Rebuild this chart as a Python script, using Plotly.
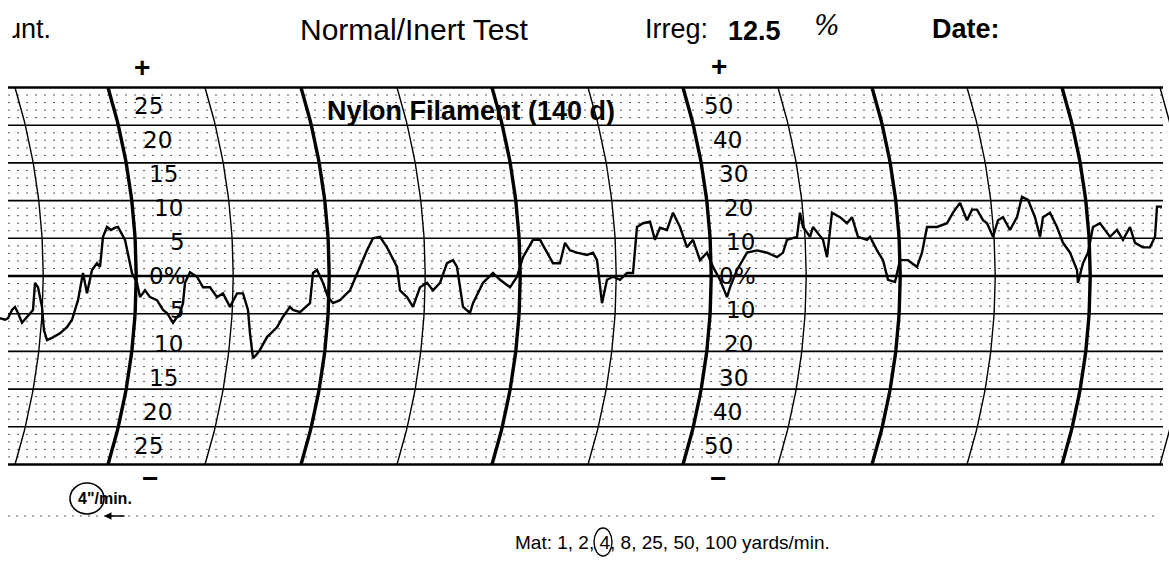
import numpy as np
import plotly.graph_objects as go

# pen trace: position along the chart and irregularity (left scale, %)
pos = [0, 5, 8, 12, 15, 18, 22, 27, 33, 35,
       38, 42, 44, 47, 52, 60, 67, 72, 75, 78,
       83, 87, 92, 97, 100, 103, 107, 111, 115, 118,
       125, 132, 137, 140, 145, 150, 157, 163, 167, 173,
       180, 183, 185, 190, 197, 203, 210, 217, 223, 230,
       237, 243, 248, 250, 253, 256, 260, 267, 277, 283,
       290, 293, 300, 310, 313, 317, 323, 328, 333, 340,
       350, 360, 367, 373, 380, 387, 397, 400, 407, 413,
       420, 427, 433, 440, 447, 453, 457, 463, 470, 473,
       483, 493, 500, 510, 517, 523, 533, 540, 547, 553,
       560, 565, 570, 577, 587, 593, 597, 600, 602, 607,
       613, 620, 627, 633, 637, 643, 650, 655, 660, 667,
       673, 680, 687, 693, 700, 707, 713, 720, 727, 730,
       737, 747, 757, 767, 777, 783, 787, 797, 800, 803,
       810, 813, 823, 827, 832, 840, 847, 852, 858, 867,
       870, 877, 883, 888, 895, 900, 908, 917, 922, 927,
       937, 947, 953, 960, 967, 972, 977, 983, 987, 993,
       998, 1003, 1010, 1017, 1022, 1028, 1035, 1040, 1043, 1050,
       1057, 1063, 1070, 1077, 1078, 1083, 1088, 1093, 1100, 1110,
       1117, 1123, 1130, 1135, 1143, 1150, 1155, 1157, 1162]
irreg = [-5.6, -5.8, -5.6, -4.5, -4.1, -4.9, -6.2, -5.4, -4.5, -0.9,
         -1.5, -4.1, -7.2, -8.5, -8.2, -7.6, -6.8, -5.8, -4.5, -3.2,
         0.4, -2.3, 0.8, 1.7, 1.2, 5.2, 6.5, 6.1, 6.4, 6.5,
         4.8, 0.4, -0.9, -2.8, -1.9, -2.8, -3.2, -4.5, -4.9, -6.2,
         -4.9, -3.6, -0.9, 0.5, -0.1, -1.5, -1.5, -2.8, -2.3, -4.1,
         -2.3, -2.3, -4.5, -7.6, -10.9, -10.5, -9.8, -8.1, -6.8, -5.4,
         -4.1, -4.5, -4.8, -3.6, 0.4, 0.8, -0.9, -2.8, -3.6, -3.2,
         -1.9, 1.2, 3.4, 5.0, 5.2, 3.8, 1.2, -1.9, -2.8, -4.1,
         -1.5, -0.9, -1.9, -0.9, 1.7, 2.1, 1.2, -4.1, -4.9, -3.6,
         -0.9, 0.4, -0.5, -1.5, -0.1, 2.5, 4.8, 4.8, 3.1, 1.7,
         1.7, 4.4, 3.4, 3.1, 2.8, 3.1, 2.1, -1.5, -3.6, -0.5,
         -0.1, -0.5, 0.4, 0.4, 6.5, 7.0, 7.2, 4.8, 6.4, 6.1,
         8.4, 6.5, 3.8, 4.8, 2.1, 3.1, 1.2, -0.5, -2.8, -1.5,
         0.8, 3.1, 3.4, 3.1, 2.5, 3.1, 4.8, 5.2, 8.4, 6.5,
         5.2, 6.5, 4.8, 2.5, 8.4, 7.8, 7.0, 7.8, 5.2, 4.8,
         5.2, 3.4, 2.1, -0.5, -0.8, 2.1, 2.1, 1.2, 3.1, 6.5,
         6.5, 7.0, 8.4, 9.7, 7.4, 8.8, 8.8, 7.4, 7.0, 5.2,
         7.4, 7.8, 6.1, 7.8, 10.5, 10.1, 7.8, 5.2, 7.8, 8.4,
         6.5, 4.4, 3.1, 0.8, -0.9, 1.7, 3.1, 6.5, 7.0, 5.2,
         6.1, 4.8, 6.5, 4.4, 3.8, 3.8, 5.2, 9.2, 9.2]

scale_values = [25, 20, 15, 10, 5, 0, -5, -10, -15, -20, -25]
left_labels = ["25", "20", "15", "10", "5", "0%", "5", "10", "15", "20", "25"]
right_labels = ["50", "40", "30", "20", "10", "0%", "10", "20", "30", "40", "50"]

thick_arcs = [108, 301, 492, 683, 872, 1062]
thin_arcs = [15, 205, 397, 588, 778, 967, 1160]

W, H = 1169, 561
PX = 7.54      # pixels per % on the left scale
ZERO = 276     # pixel row of the 0% line
R = 645        # radius of the time arcs


def yv(pix):
    return (ZERO - pix) / PX


def arc_x(x0, v):
    d = np.asarray(v) * PX
    return x0 + np.sqrt(R ** 2 - d ** 2) - np.sqrt(R ** 2 - (25 * PX) ** 2)


fig = go.Figure()

# horizontal rulings
for v in range(-25, 26):
    if v % 5 == 0:
        w = 2.6 if v in (-25, 0, 25) else 1.6
        fig.add_trace(go.Scatter(x=[8, 1163], y=[v, v], mode="lines",
                                 line=dict(color="black", width=w), hoverinfo="skip"))
    else:
        fig.add_trace(go.Scatter(x=[8, 1163], y=[v, v], mode="lines",
                                 line=dict(color="#555", width=1, dash="2px,7px"), hoverinfo="skip"))

# curved time lines
vv = np.linspace(-25, 25, 60)
for x0 in thick_arcs:
    fig.add_trace(go.Scatter(x=arc_x(x0, vv), y=vv, mode="lines",
                             line=dict(color="black", width=3.4), hoverinfo="skip"))
for x0 in thin_arcs:
    fig.add_trace(go.Scatter(x=arc_x(x0, vv), y=vv, mode="lines",
                             line=dict(color="black", width=1.4), hoverinfo="skip"))

# the recorded trace
fig.add_trace(go.Scatter(x=pos, y=irreg, mode="lines",
                         line=dict(color="black", width=2.4), hoverinfo="skip"))

ann = []
lab_font = dict(family="DejaVu Sans", size=23, color="black")
for v, lt, rt in zip(scale_values, left_labels, right_labels):
    yl = 0.9 * v
    ann.append(dict(x=float(arc_x(108, yl)) + 52, y=yl, text=lt, xanchor="right",
                    showarrow=False, font=lab_font))
    ann.append(dict(x=float(arc_x(683, yl)) + 47, y=yl, text=rt, xanchor="right",
                    showarrow=False, font=lab_font))

head = dict(family="Liberation Sans", size=27, color="black")
sign = dict(family="Liberation Sans", size=28, color="black")
ann += [
    dict(x=10, y=yv(29), text="ɹnt.", xanchor="left", showarrow=False, font=head),
    dict(x=298, y=yv(29), text="Normal/Inert Test", xanchor="left", showarrow=False,
         font=dict(family="Liberation Sans", size=30, color="black")),
    dict(x=643, y=yv(29), text="Irreg:", xanchor="left", showarrow=False, font=head),
    dict(x=726, y=yv(31), text="<b>12.5</b>", xanchor="left", showarrow=False, font=head),
    dict(x=812, y=yv(25), text="<i>%</i>", xanchor="left", showarrow=False,
         font=dict(family="DejaVu Serif", size=27, color="black")),
    dict(x=930, y=yv(29), text="<b>Date:</b>", xanchor="left", showarrow=False, font=head),
    dict(x=142, y=yv(67), text="<b>+</b>", showarrow=False, font=sign),
    dict(x=719, y=yv(66), text="<b>+</b>", showarrow=False, font=sign),
    dict(x=150, y=yv(478), text="<b>−</b>", showarrow=False, font=sign),
    dict(x=718, y=yv(478), text="<b>−</b>", showarrow=False, font=sign),
    dict(x=325, y=yv(111), text="<b>Nylon Filament (140 d)</b>", xanchor="left", showarrow=False,
         font=dict(family="Liberation Sans", size=27, color="black")),
    dict(x=76, y=yv(498), text="<b>4\"/min.</b>", xanchor="left", showarrow=False,
         font=dict(family="Liberation Sans", size=16, color="black")),
    dict(x=513, y=yv(542), text="Mat: 1, 2, 4, 8, 25, 50, 100 yards/min.", xanchor="left",
         showarrow=False, font=dict(family="Liberation Sans", size=19, color="black")),
    dict(x=104, y=yv(516), ax=126, ay=yv(516), axref="x", ayref="y", text="", showarrow=True,
         arrowhead=2, arrowsize=1, arrowwidth=1.5, arrowcolor="black"),
]

shapes = [
    dict(type="line", x0=8, x1=1160, y0=yv(516), y1=yv(516),
         line=dict(color="#555", width=1, dash="2px,6px")),
    dict(type="circle", x0=70, x1=104, y0=yv(514), y1=yv(483), line=dict(color="black", width=1.6)),
    dict(type="circle", x0=594, x1=612, y0=yv(556), y1=yv(528), line=dict(color="black", width=1.4)),
]

fig.update_layout(
    width=W, height=H, margin=dict(l=0, r=0, t=0, b=0),
    paper_bgcolor="white", plot_bgcolor="white", showlegend=False,
    xaxis=dict(range=[0, W], visible=False, fixedrange=True),
    yaxis=dict(range=[yv(H), yv(0)], visible=False, fixedrange=True),
    annotations=ann, shapes=shapes,
)

fig.write_html("out.html", post_script="document.body.style.margin='0';",
               config={"displayModeBar": False})
